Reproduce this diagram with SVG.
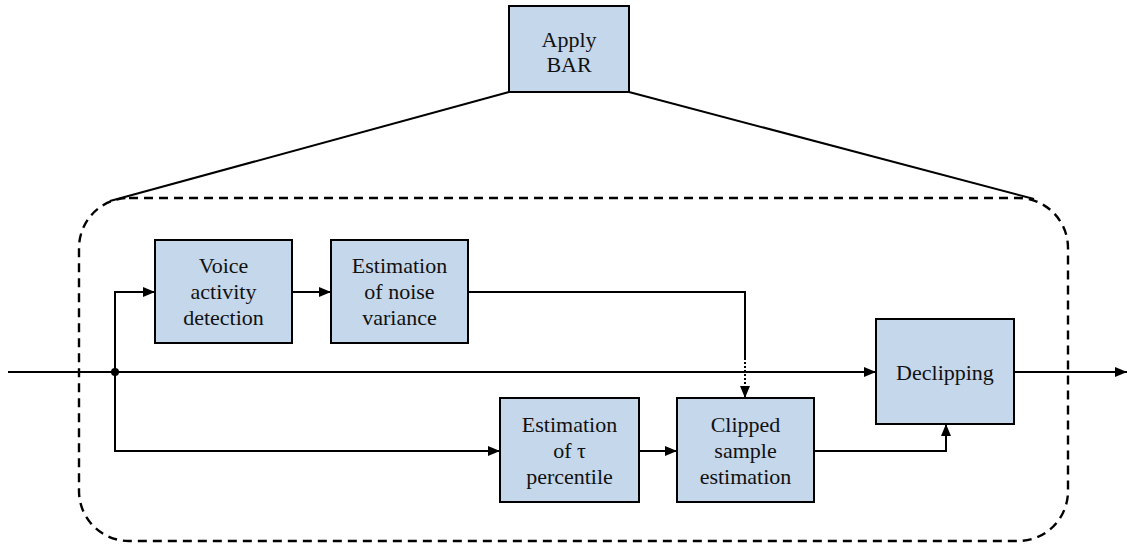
<svg xmlns="http://www.w3.org/2000/svg" width="1127" height="546" viewBox="0 0 1127 546">
  <defs>
    <marker id="arrow" viewBox="0 0 12 10" refX="12" refY="5" markerWidth="12" markerHeight="10" markerUnits="userSpaceOnUse" orient="auto">
      <path d="M0,0 L12,5 L0,10 Z" fill="#000"/>
    </marker>
    <style>
      .box { fill: #c5d7ea; stroke: #000; stroke-width: 2; }
      .lbl { font-family: "Liberation Serif", "Times New Roman", serif; font-size: 22px; fill: #111; text-anchor: middle; }
      .wire { fill: none; stroke: #000; stroke-width: 2; }
      .arr { marker-end: url(#arrow); }
      .frame { fill: none; stroke: #000; stroke-width: 2.4; stroke-dasharray: 9 6; }
    </style>
  </defs>
  <rect width="1127" height="546" fill="#fff"/>

  <!-- expanded sub-system outline -->
  <g id="frame">
    <rect class="frame" x="79" y="198" width="989" height="343" rx="50" ry="50"/>
    <line class="wire" x1="509" y1="92" x2="110" y2="201"/>
    <line class="wire" x1="629" y1="92" x2="1034" y2="199"/>
  </g>

  <!-- connectors -->
  <g id="connectors">
    <line class="wire arr" x1="8" y1="372" x2="876" y2="372"/>
    <polyline class="wire arr" points="115,372 115,292 155,292"/>
    <polyline class="wire arr" points="115,372 115,451 500,451"/>
    <line class="wire arr" x1="292" y1="292" x2="331" y2="292"/>
    <polyline class="wire" points="468,292 745,292 745,358"/>
    <line class="wire" x1="745" y1="358" x2="745" y2="388" stroke-dasharray="2 2"/>
    <line class="wire arr" x1="745" y1="386" x2="745" y2="398"/>
    <line class="wire arr" x1="639" y1="451" x2="677" y2="451"/>
    <polyline class="wire arr" points="814,451 946,451 946,424"/>
    <line class="wire arr" x1="1014" y1="372" x2="1127" y2="372"/>
    <circle cx="115" cy="372" r="4" fill="#000"/>
  </g>

  <g id="apply-bar">
    <rect class="box" x="509" y="6" width="120" height="86"/>
    <text class="lbl" x="569" y="47">Apply</text>
    <text class="lbl" x="569" y="72">BAR</text>
  </g>

  <g id="vad">
    <rect class="box" x="155" y="240" width="137" height="103"/>
    <text class="lbl" x="223.5" y="273">Voice</text>
    <text class="lbl" x="223.5" y="299">activity</text>
    <text class="lbl" x="223.5" y="325">detection</text>
  </g>

  <g id="noise-variance">
    <rect class="box" x="331" y="240" width="137" height="103"/>
    <text class="lbl" x="399.5" y="273">Estimation</text>
    <text class="lbl" x="399.5" y="299">of noise</text>
    <text class="lbl" x="399.5" y="325">variance</text>
  </g>

  <g id="tau-percentile">
    <rect class="box" x="500" y="398" width="139" height="104"/>
    <text class="lbl" x="569.5" y="432">Estimation</text>
    <text class="lbl" x="569.5" y="458">of τ</text>
    <text class="lbl" x="569.5" y="484">percentile</text>
  </g>

  <g id="clipped-sample">
    <rect class="box" x="677" y="398" width="137" height="104"/>
    <text class="lbl" x="745.5" y="432">Clipped</text>
    <text class="lbl" x="745.5" y="458">sample</text>
    <text class="lbl" x="745.5" y="484">estimation</text>
  </g>

  <g id="declipping">
    <rect class="box" x="876" y="319" width="138" height="105"/>
    <text class="lbl" x="945" y="380">Declipping</text>
  </g>
</svg>
